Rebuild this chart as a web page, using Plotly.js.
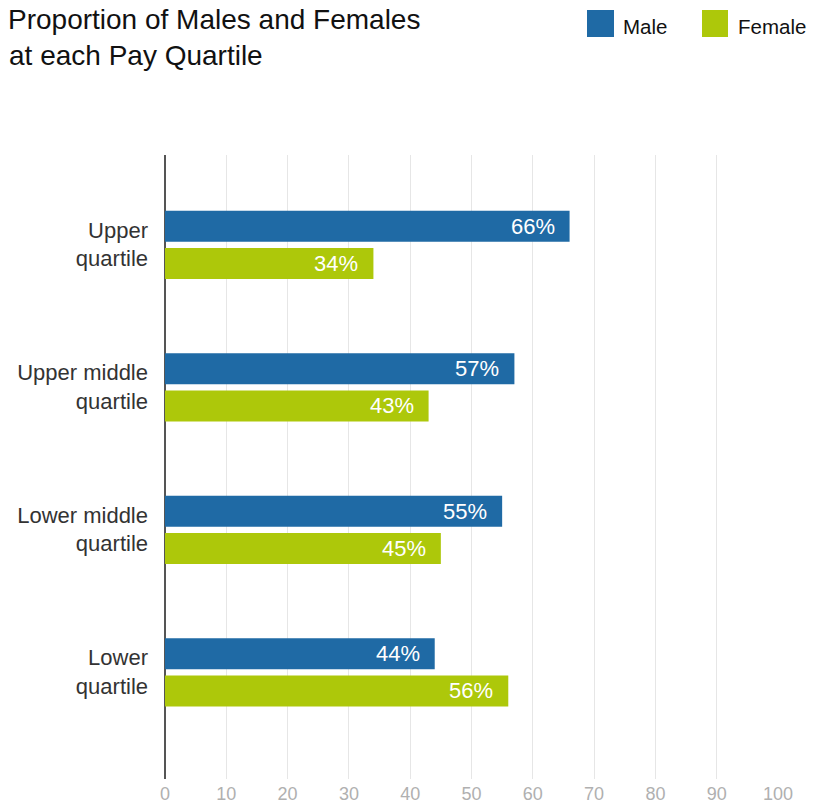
<!DOCTYPE html>
<html>
<head>
<meta charset="utf-8">
<script src="https://cdn.plot.ly/plotly-3.0.1.min.js"></script>
<style>html,body{margin:0;padding:0;background:#fff;}#chart{width:821px;height:805px;}</style>
</head>
<body>
<div id="chart"></div>
<script>
// ---- data ----
const categories = ['Upper<br>quartile', 'Upper middle<br>quartile', 'Lower middle<br>quartile', 'Lower<br>quartile'];
const maleValues = [66, 57, 55, 44];
const femaleValues = [34, 43, 45, 56];
const seriesNames = ['Male', 'Female'];
const xTicks = [0, 10, 20, 30, 40, 50, 60, 70, 80, 90, 100];
const titleLines = ['Proportion of Males and Females', 'at each Pay Quartile'];

// ---- style ----
const FONT = 'Liberation Sans, Arial, Helvetica, sans-serif';
const colors = ['#1f6aa5', '#adc80a'];

// ---- layout geometry (pixels) ----
const W = 821, H = 805;
const M = {l: 165, r: 43, t: 155, b: 26};
const PW = W - M.l - M.r, PH = H - M.t - M.b;
const px = v => (v - M.l) / PW;
const py = v => (H - M.b - v) / PH;

// bar geometry in category units
const BAR_W = 0.2175;
const offsets = [-0.237, 0.0246];
const UNIT_PX = 142.5;

const traces = [maleValues, femaleValues].map((vals, i) => ({
  type: 'bar',
  orientation: 'h',
  name: seriesNames[i],
  y: categories,
  x: vals,
  width: BAR_W,
  offset: offsets[i],
  marker: {color: colors[i], line: {width: 0}},
  hoverinfo: 'x+y',
  showlegend: false
}));

const annotations = [];
[maleValues, femaleValues].forEach((vals, i) => {
  const centre = offsets[i] + BAR_W / 2;
  vals.forEach((v, j) => {
    annotations.push({
      xref: 'x', yref: 'y', x: v, y: j,
      text: v + '%', showarrow: false,
      xanchor: 'right', yanchor: 'middle',
      xshift: -13, yshift: -centre * UNIT_PX,
      font: {family: FONT, size: 22, color: '#ffffff'}
    });
  });
});

// second title line
annotations.push({
  xref: 'paper', yref: 'paper', x: px(7), y: py(56),
  xanchor: 'left', yanchor: 'middle', showarrow: false,
  text: titleLines[1],
  font: {family: FONT, size: 28, color: '#111111'}
});

// legend labels
const legendItems = [
  {x0: 587, x1: 614, tx: 621},
  {x0: 702, x1: 728, tx: 736}
];
const shapes = [];
legendItems.forEach((it, i) => {
  shapes.push({
    type: 'rect', xref: 'paper', yref: 'paper',
    x0: px(it.x0), x1: px(it.x1), y0: py(37), y1: py(10),
    fillcolor: colors[i], line: {width: 0}
  });
  annotations.push({
    xref: 'paper', yref: 'paper', x: px(it.tx), y: py(26),
    xanchor: 'left', yanchor: 'middle', showarrow: false,
    text: seriesNames[i],
    font: {family: FONT, size: 20.5, color: '#111111'}
  });
});

const layout = {
  width: W, height: H,
  margin: M,
  paper_bgcolor: '#ffffff',
  plot_bgcolor: '#ffffff',
  font: {family: FONT},
  title: {
    text: titleLines[0],
    x: 8 / W, xref: 'container', xanchor: 'left',
    y: 1 - 19 / H, yref: 'container', yanchor: 'middle',
    font: {family: FONT, size: 28, color: '#111111'}
  },
  barmode: 'group',
  xaxis: {
    range: [0, 100],
    tickvals: xTicks,
    ticktext: xTicks.map(String),
    showgrid: true,
    gridcolor: '#e6e6e6',
    gridwidth: 1,
    zeroline: true,
    zerolinecolor: '#555555',
    zerolinewidth: 1.5,
    showline: false,
    ticks: '',
    ticklabelstandoff: 2,
    tickfont: {family: FONT, size: 18, color: '#b0b0b0'},
    fixedrange: true
  },
  yaxis: {
    type: 'category',
    categoryorder: 'array',
    categoryarray: categories,
    range: [3.751, -0.628],
    showgrid: false,
    zeroline: false,
    showline: false,
    ticks: '',
    ticklabelstandoff: 16,
    tickfont: {family: FONT, size: 22, color: '#333333'},
    fixedrange: true
  },
  annotations: annotations,
  shapes: shapes
};

Plotly.newPlot('chart', traces, layout, {displayModeBar: false, staticPlot: true});
</script>
</body>
</html>
